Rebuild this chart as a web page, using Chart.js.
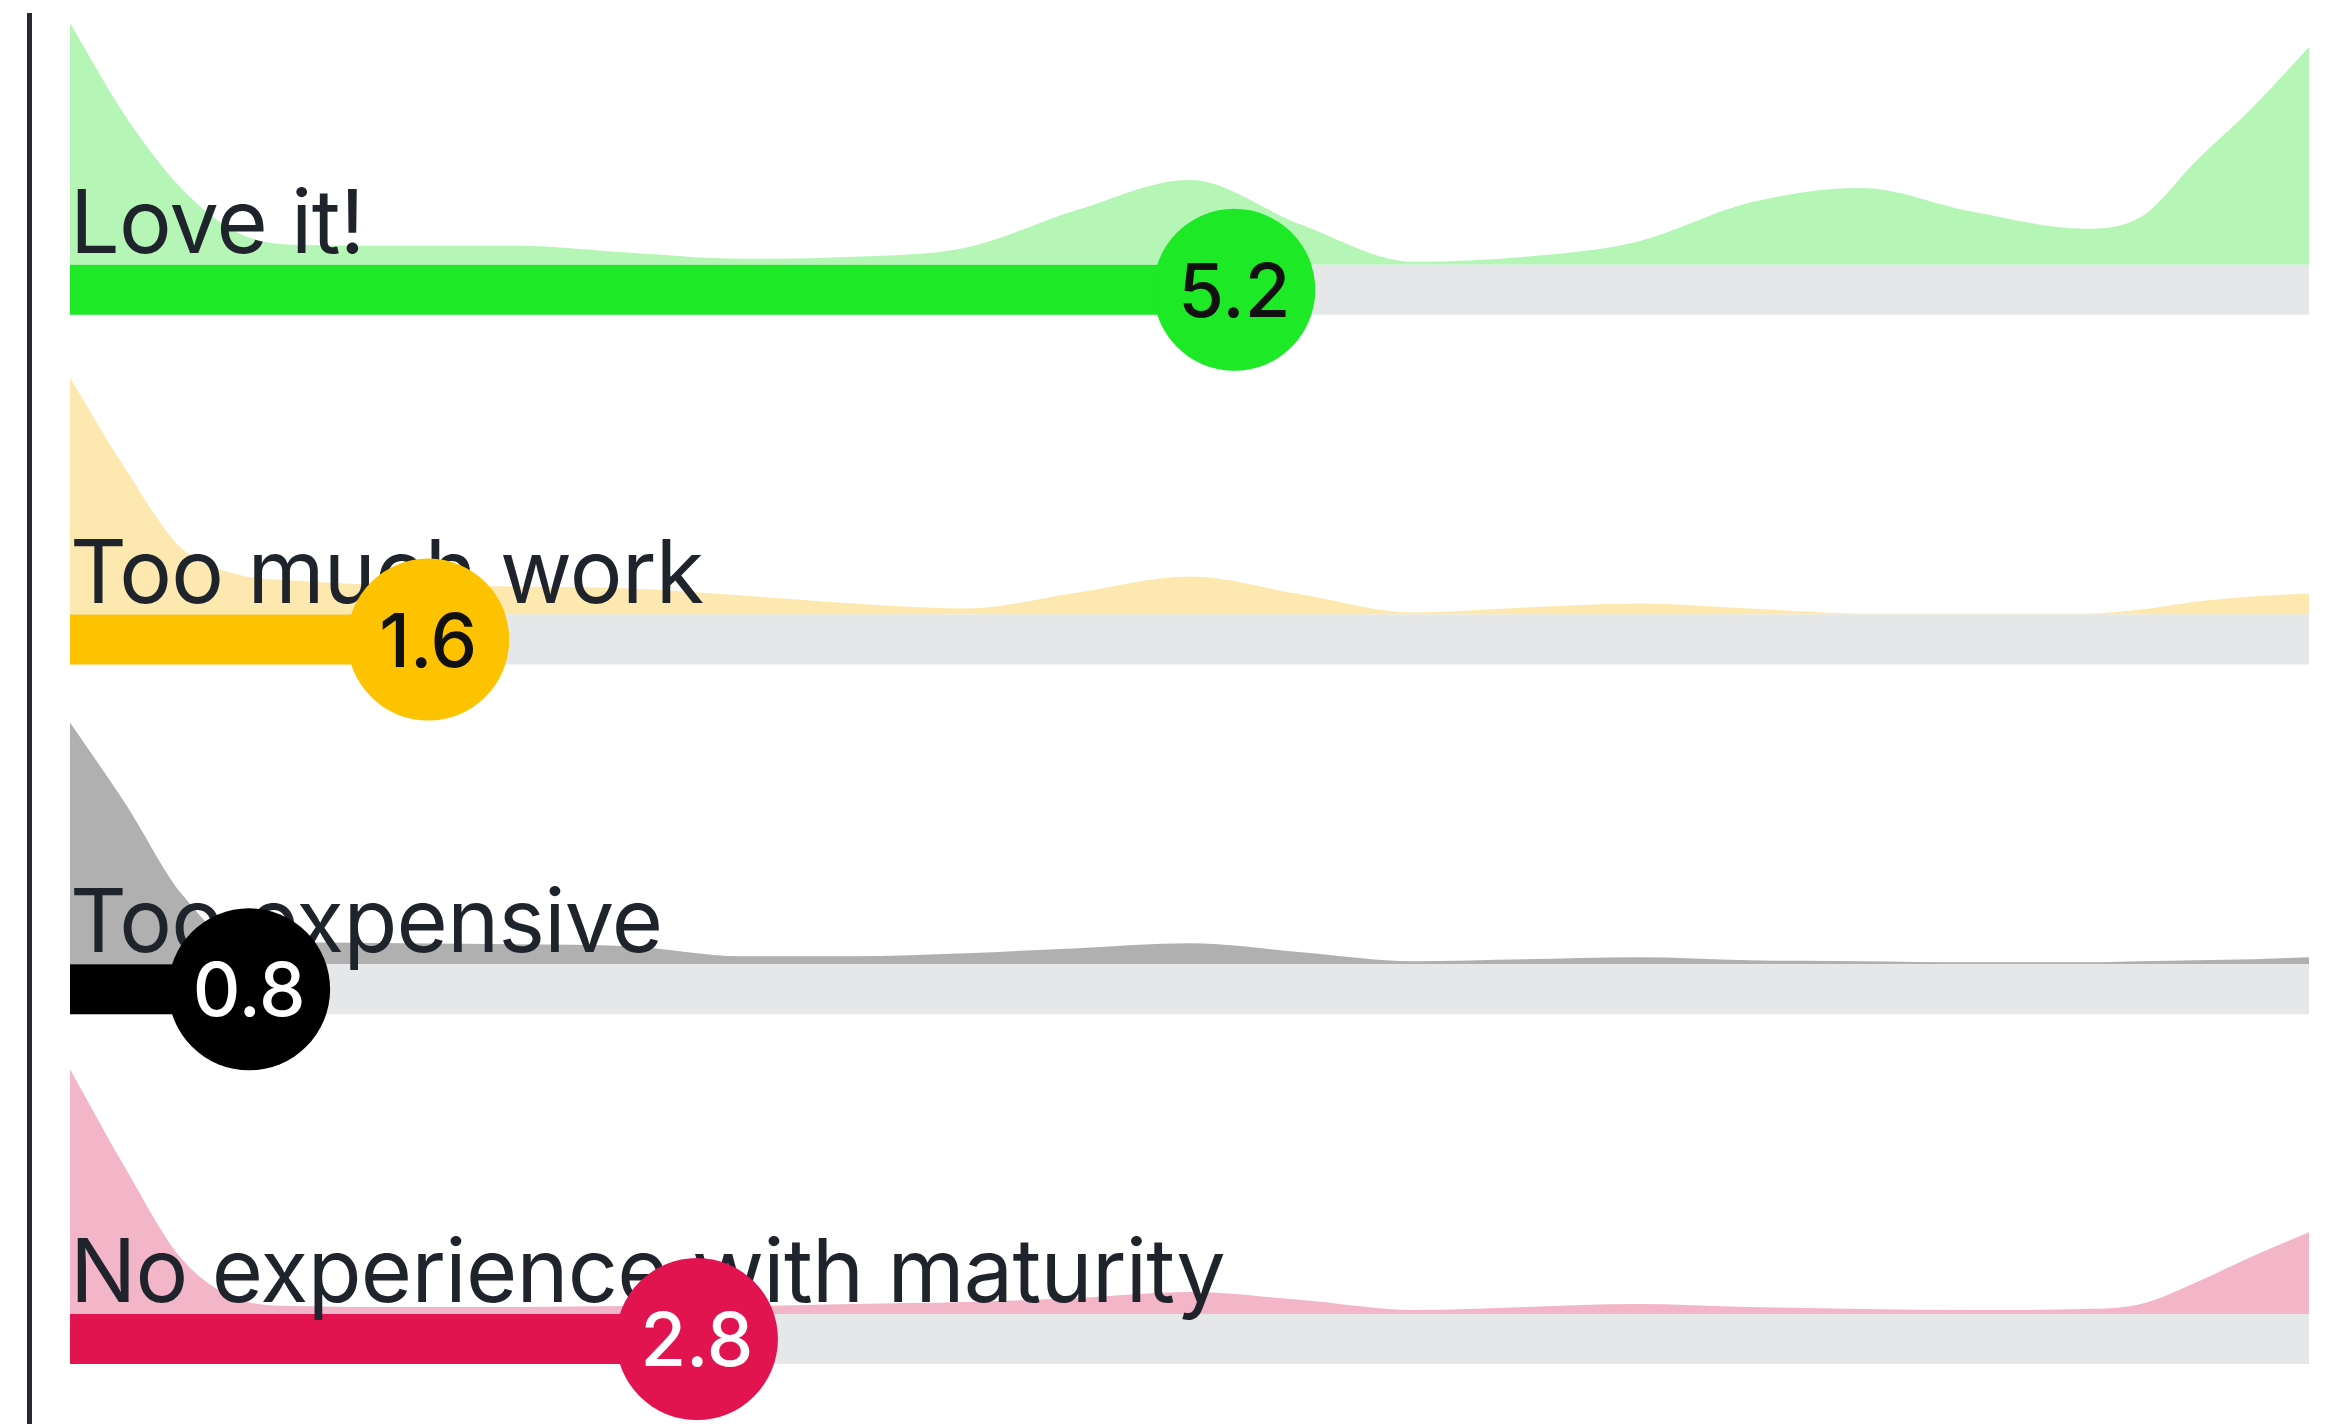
<!DOCTYPE html>
<html>
<head>
<meta charset="utf-8">
<script src="https://cdn.jsdelivr.net/npm/chart.js@4.4.0/dist/chart.umd.min.js"></script>
<style>
  html, body { margin: 0; padding: 0; background: #fff; }
  #wrap { width: 2326px; height: 1424px; position: relative; }
</style>
</head>
<body>
<div id="wrap"><canvas id="chart"></canvas></div>
<script>
// reasons and their average score (0-10)
const reasons = ["Love it!", "Too much work", "Too expensive", "No experience with maturity"];
const scores = [5.2, 1.6, 0.8, 2.8];

// score positions where the distribution curves were read
const gridX = [0, 0.25, 0.5, 0.75, 1, 1.5, 2, 2.5, 3, 3.5, 4, 4.5, 5, 5.5, 6, 6.5, 7, 7.5, 8, 8.5, 9, 9.25, 9.5, 9.75, 10];

// distribution heights per reason
const loveIt = [242, 148, 76, 32, 20, 19, 19, 12, 6, 8, 17, 55, 85, 40, 3, 8, 23, 62, 77, 53, 36, 48, 105, 158, 218];
const tooMuchWork = [237, 145, 66, 40, 34, 29, 28, 26, 19, 11, 6, 22, 38, 20, 2, 7, 11, 6, 1, 1, 1, 5, 13, 18, 21];
const tooExpensive = [242, 160, 70, 23, 22, 21, 20, 18, 8, 8, 11, 16, 21, 12, 3, 5, 7, 4, 3, 2, 2, 3, 4, 5, 7];
const noExperience = [245, 145, 55, 15, 8, 7, 7, 8, 8, 10, 12, 16, 22, 14, 4, 7, 10, 7, 5, 4, 5, 10, 32, 58, 82];
const curves = [loveIt, tooMuchWork, tooExpensive, noExperience];

const barColors = ["#1de926", "#fdc300", "#000000", "#e11450"];
const areaColors = ["#b5f5b6", "#fde9b0", "#b0b0b0", "#f3b6c9"];
const valueColors = ["#111111", "#111111", "#ffffff", "#ffffff"];

const X_MIN = 0, X_MAX = 10;
const BAR_H = 50;

const datasets = [];
const scales = { x: { type: "linear", min: X_MIN, max: X_MAX, display: false } };

reasons.forEach(function (name, i) {
  const yId = "y" + i;
  scales[yId] = {
    type: "linear", min: -100, max: 250, display: false,
    position: "left", stack: "rows", stackWeight: 1, weight: reasons.length - i
  };
  // distribution area
  datasets.push({
    role: "area", row: i, yAxisID: yId,
    data: gridX.map((x, j) => ({ x: x, y: curves[i][j] })),
    backgroundColor: areaColors[i], borderColor: "transparent", borderWidth: 0,
    fill: { value: 0 }, pointRadius: 0, cubicInterpolationMode: "monotone", order: 3
  });
  // grey track
  datasets.push({
    role: "track", row: i, yAxisID: yId,
    data: [{ x: X_MIN, y: -BAR_H }, { x: X_MAX, y: -BAR_H }],
    backgroundColor: "#e6e7e9", borderColor: "transparent", borderWidth: 0,
    fill: { value: 0 }, pointRadius: 0, order: 2
  });
  // score bar
  datasets.push({
    role: "bar", row: i, yAxisID: yId,
    data: [{ x: X_MIN, y: -BAR_H }, { x: scores[i], y: -BAR_H }],
    backgroundColor: barColors[i], borderColor: "transparent", borderWidth: 0,
    fill: { value: 0 }, pointRadius: 0, order: 1
  });
  // score bubble
  datasets.push({
    role: "score", row: i, yAxisID: yId,
    data: [{ x: scores[i], y: -BAR_H / 2 }],
    showLine: false, pointRadius: 81, pointBorderWidth: 0,
    pointBackgroundColor: barColors[i], clip: false, order: 0
  });
});

const rowDecor = {
  id: "rowDecor",
  beforeDraw(chart) {
    const { ctx, chartArea } = chart;
    ctx.save();
    ctx.fillStyle = "#262a33";
    ctx.fillRect(chartArea.left - 43, 13, 5, chart.height - 13);
    ctx.restore();
  },
  afterDatasetDraw(chart, args) {
    const ds = chart.data.datasets[args.index];
    const ctx = chart.ctx;
    const yScale = chart.scales["y" + ds.row];
    ctx.save();
    if (ds.role === "bar") {
      // reason name sits just above the bar, under the bubble
      ctx.font = "400 88px Inter";
      ctx.letterSpacing = "-0.7px";
      ctx.fillStyle = "#1f232b";
      ctx.textAlign = "left";
      ctx.textBaseline = "alphabetic";
      ctx.fillText(reasons[ds.row], chart.scales.x.getPixelForValue(X_MIN), yScale.getPixelForValue(12));
    } else if (ds.role === "score") {
      const pt = args.meta.data[0];
      ctx.font = "500 74px Inter";
      ctx.fillStyle = valueColors[ds.row];
      ctx.textAlign = "center";
      ctx.textBaseline = "alphabetic";
      ctx.fillText(scores[ds.row].toFixed(1), pt.x, pt.y + 27);
    }
    ctx.restore();
  }
};

new Chart(document.getElementById("chart"), {
  type: "line",
  data: { datasets: datasets },
  options: {
    responsive: true,
    maintainAspectRatio: false,
    animation: false,
    events: [],
    layout: { autoPadding: false, padding: { left: 70, right: 17, top: 15, bottom: 10 } },
    scales: scales,
    plugins: { legend: { display: false }, tooltip: { enabled: false } }
  },
  plugins: [rowDecor]
});
</script>
</body>
</html>
